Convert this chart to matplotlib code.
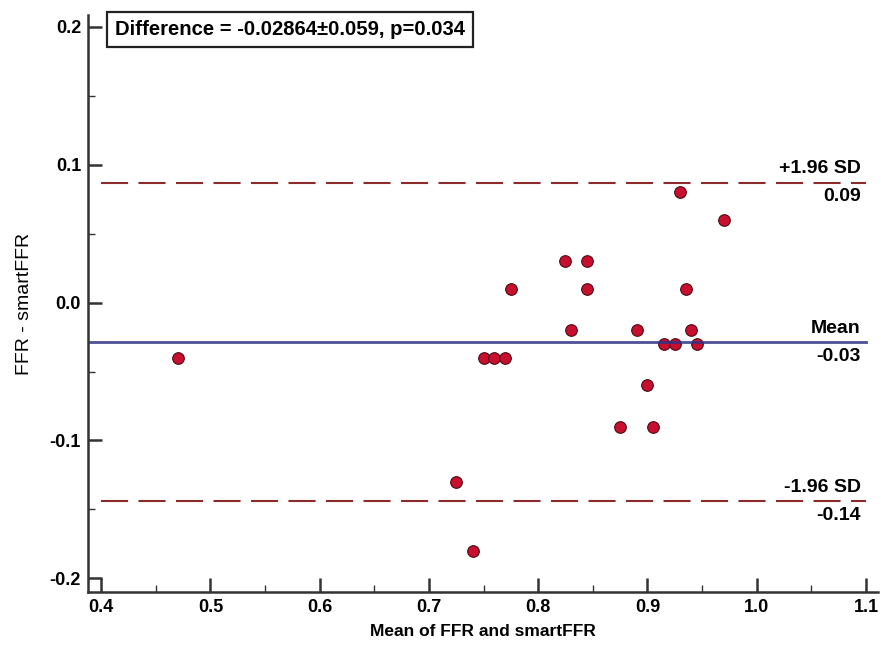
import matplotlib
matplotlib.use('Agg')
import matplotlib.pyplot as plt
from matplotlib.ticker import MultipleLocator
import numpy as np

plt.rcParams['font.family'] = ['Liberation Sans', 'DejaVu Sans']
plt.rcParams['font.weight'] = 'bold'

# mean of the two measurements and their difference
mean_ffr = [0.47, 0.725, 0.74, 0.75, 0.76, 0.77, 0.775, 0.825, 0.83, 0.845,
            0.845, 0.875, 0.89, 0.90, 0.905, 0.915, 0.925, 0.93, 0.935, 0.94,
            0.945, 0.97]
diff_ffr = [-0.04, -0.13, -0.18, -0.04, -0.04, -0.04, 0.01, 0.03, -0.02, 0.03,
            0.01, -0.09, -0.02, -0.06, -0.09, -0.03, -0.03, 0.08, 0.01, -0.02,
            -0.03, 0.06]

mean_diff = -0.02864
sd_diff = 0.059
p_value = 0.034
upper = mean_diff + 1.96 * sd_diff
lower = mean_diff - 1.96 * sd_diff

fig = plt.figure(figsize=(8.81, 6.46), dpi=100)
ax = fig.add_axes([88 / 881, 1 - 592 / 646, 790 / 881, 577 / 646])

ax.set_xlim(0.388, 1.111)
ax.set_ylim(-0.210, 0.2087)

ax.plot([0.4, 1.1], [upper, upper], color='#8b2b2b', lw=1.5, dashes=(13, 5))
ax.plot([0.4, 1.1], [lower, lower], color='#8b2b2b', lw=1.5, dashes=(13, 5))
ax.scatter(mean_ffr, diff_ffr, s=70, color='#c8102e', edgecolor='#4a0a14',
           linewidth=0.8, zorder=3)
ax.plot([0.39, 1.1], [mean_diff, mean_diff], color='#2e3184', lw=2.0,
        zorder=4, alpha=0.85)

# labels at the right end of the lines
xr = 1.095
fs = 14
ax.text(xr, upper + 0.004, '+1.96 SD', ha='right', va='bottom', fontsize=fs)
ax.text(xr, upper - 0.004, f'{upper:.2f}', ha='right', va='top', fontsize=fs)
ax.text(xr, mean_diff + 0.004, 'Mean', ha='right', va='bottom', fontsize=fs)
ax.text(xr, mean_diff - 0.004, f'{mean_diff:.2f}', ha='right', va='top', fontsize=fs)
ax.text(xr, lower + 0.004, '-1.96 SD', ha='right', va='bottom', fontsize=fs)
ax.text(xr, lower - 0.004, f'{lower:.2f}', ha='right', va='top', fontsize=fs)

fig.text(115 / 881, 1 - 29.5 / 646,
         f'Difference = {mean_diff:.5f}\u00b1{sd_diff:.3f}, p={p_value:.3f}',
         ha='left', va='center', fontsize=14.6,
         bbox=dict(boxstyle='square,pad=0.38', fc='white', ec='#222222', lw=1.6))

ax.spines['top'].set_visible(False)
ax.spines['right'].set_visible(False)
for s in ['left', 'bottom']:
    ax.spines[s].set_linewidth(1.8)
    ax.spines[s].set_color('#333333')

ax.set_xticks(np.arange(0.4, 1.11, 0.1))
ax.set_yticks([-0.2, -0.1, 0.0, 0.1, 0.2])
ax.xaxis.set_minor_locator(MultipleLocator(0.05))
ax.yaxis.set_minor_locator(MultipleLocator(0.05))
ax.tick_params(which='major', direction='in', length=10, width=1.8,
               color='#333333', labelsize=13, pad=5)
ax.tick_params(which='minor', direction='in', length=5, width=1.0, color='#333333')
ax.xaxis.set_major_formatter(plt.FuncFormatter(lambda v, p: f'{v:.1f}'))
ax.yaxis.set_major_formatter(plt.FuncFormatter(lambda v, p: f'{v:.1f}'))

ax.set_xlabel('Mean of FFR and smartFFR', fontsize=12.5, fontweight='bold', labelpad=6)
ax.set_ylabel('FFR - smartFFR', fontsize=14, fontweight='normal', labelpad=12)

fig.savefig('out.png', dpi=100)
